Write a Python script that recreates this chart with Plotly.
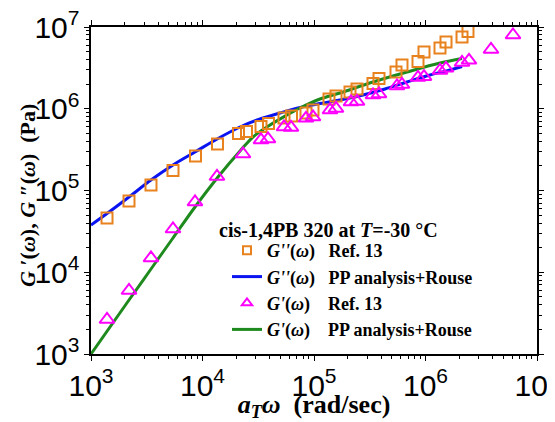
import plotly.graph_objects as go

# G''(omega) Ref. 13 (squares)
gpp_omega = [1392, 2192, 3452, 5438, 8654, 13630, 21030, 24810, 33470, 39080,
             53820, 62840, 84780, 97950, 136300, 157500, 210300, 243000, 338100, 382800,
             543800, 615500, 856500, 969400, 1.349e6, 1.527e6, 2.126e6, 2.405e6]
gpp_ref = [46100, 74400, 116800, 175600, 264200, 370500, 498100, 526800, 606600, 659900,
           770800, 815400, 887300, 965400, 1.316e6, 1.432e6, 1.603e6, 1.744e6, 2.037e6, 2.344e6,
           2.815e6, 3.429e6, 3.784e6, 4.945e6, 5.535e6, 6.553e6, 7.546e6, 8.810e6]

# G'(omega) Ref. 13 (triangles)
gp_omega = [1392, 2192, 3452, 5438, 8565, 13490, 23080, 33470, 38680, 53820,
            62190, 84780, 97950, 139200, 157500, 214700, 243000, 338100, 382800, 555100,
            615500, 856500, 969400, 1.349e6, 1.527e6, 2.126e6, 2.455e6, 3.868e6, 6.092e6]
gp_ref = [2642, 5981, 14940, 33810, 72330, 148400, 279600, 414700, 426600, 598100,
          589700, 764200, 792600, 965400, 1.007e6, 1.209e6, 1.227e6, 1.473e6, 1.515e6, 1.898e6,
          1.980e6, 2.411e6, 2.466e6, 2.937e6, 3.124e6, 3.679e6, 3.914e6, 5.307e6, 7.984e6]

# G''(omega) PP analysis + Rouse (blue line)
gpp_fit_omega = [1000, 1392, 2192, 3452, 5438, 8565, 13770, 21700, 32790, 49560,
                 74890, 113200, 171100, 275100, 433300, 682500, 1.097e6, 1.658e6, 2.126e6]
gpp_fit = [37840, 52320, 83280, 134400, 205000, 295800, 432600, 598100, 749300, 887300,
           1.036e6, 1.159e6, 1.279e6, 1.473e6, 1.744e6, 2.125e6, 2.587e6, 2.979e6, 3.287e6]

# G'(omega) PP analysis + Rouse (green line)
gp_fit_omega = [1000, 2192, 3452, 5438, 8565, 13770, 21700, 28370, 40310, 57260,
                74890, 113200, 171100, 338100, 682500, 1.349e6, 2.126e6]
gp_fit = [1000, 4578, 10960, 26240, 62840, 146300, 304300, 451100, 632700, 838600,
          1.021e6, 1.316e6, 1.558e6, 2.125e6, 2.815e6, 3.627e6, 4.119e6]

ORANGE = "#E8821E"
MAGENTA = "#FF00FF"
BLUE = "#0A14F0"
GREEN = "#1E8A1E"

fig = go.Figure()

# data traces (legend drawn with separate legend-only entries)
fig.add_trace(go.Scatter(x=gpp_fit_omega, y=gpp_fit, mode="lines", line=dict(color=BLUE, width=3, shape="spline"), showlegend=False))
fig.add_trace(go.Scatter(x=gp_fit_omega, y=gp_fit, mode="lines", line=dict(color=GREEN, width=3, shape="spline"), showlegend=False))
fig.add_trace(go.Scatter(x=gpp_omega, y=gpp_ref, mode="markers",
                         marker=dict(symbol="square-open", size=11, color=ORANGE, line=dict(width=2, color=ORANGE)), showlegend=False))
fig.add_trace(go.Scatter(x=gp_omega, y=gp_ref, mode="markers",
                         marker=dict(symbol="triangle-up-open", size=13, color=MAGENTA, line=dict(width=2, color=MAGENTA)), showlegend=False))

sp = "\u00a0"
leg_items = [
    dict(name=f"<i>G''</i>(<i>ω</i>){sp*3}Ref. 13", mode="markers",
         marker=dict(symbol="square-open", size=8, color=ORANGE, line=dict(width=2, color=ORANGE))),
    dict(name=f"<i>G''</i>(<i>ω</i>){sp*3}PP analysis+Rouse", mode="lines", line=dict(color=BLUE, width=3)),
    dict(name=f"<i>G'</i>(<i>ω</i>){sp*4}Ref. 13", mode="markers",
         marker=dict(symbol="triangle-up-open", size=9, color=MAGENTA, line=dict(width=2, color=MAGENTA))),
    dict(name=f"<i>G'</i>(<i>ω</i>){sp*4}PP analysis+Rouse", mode="lines", line=dict(color=GREEN, width=3)),
]
for it in leg_items:
    fig.add_trace(go.Scatter(x=[None], y=[None], showlegend=True, **it))

axis_common = dict(
    type="log", dtick=1, exponentformat="power", showexponent="all",
    showline=True, linecolor="black", linewidth=1.5, mirror="allticks",
    ticks="outside", ticklen=5, tickwidth=1.2, tickcolor="black",
    minor=dict(ticks="outside", ticklen=3, tickwidth=1, tickcolor="black", dtick="D1", showgrid=False),
    showgrid=False, zeroline=False, automargin=False, ticklabeloverflow="allow",
    tickfont=dict(family="Liberation Sans, Arial", size=24, color="black"),
)

fig.update_xaxes(range=[3, 7],
                 title=dict(text="<i>a</i><sub><i>T</i></sub><i>ω</i>" + sp + " (rad/sec)",
                            font=dict(family="Liberation Serif, Times New Roman", size=26, color="black", weight="bold"),
                            standoff=0),
                 **axis_common)
fig.update_yaxes(range=[3, 7], **axis_common)

# y-axis title as a rotated annotation for exact placement
fig.add_annotation(text="<i>G</i> ′(<i>ω</i>), <i>G</i> ″(<i>ω</i>)" + sp*2 + "(Pa)",
                   xref="paper", yref="paper", x=(28 - 91) / 446, y=(354 - 196) / 327,
                   xanchor="center", yanchor="middle", textangle=-90, showarrow=False,
                   font=dict(family="Liberation Serif, Times New Roman", size=22, color="black", weight="bold"))

fig.add_annotation(text="cis-1,4PB 320 at <i>T</i>=-30 °C", xref="paper", yref="paper",
                   x=(217 - 91) / 446, y=(354 - 230) / 327, xanchor="left", yanchor="middle", showarrow=False,
                   font=dict(family="Liberation Serif, Times New Roman", size=20, color="black", weight="bold"))

# page body has an 8px margin: figure is offset by (8, 8) in the window
fig.update_layout(
    width=547, height=414,
    margin=dict(l=83, r=18, t=19, b=68),
    paper_bgcolor="white", plot_bgcolor="white",
    legend=dict(x=(227 - 91) / 446, y=(354 - 232) / 327, xanchor="left", yanchor="top",
                bgcolor="rgba(0,0,0,0)", borderwidth=0,
                font=dict(family="Liberation Serif, Times New Roman", size=18, color="black", weight="bold")),
)

fig.write_html("out.html")
